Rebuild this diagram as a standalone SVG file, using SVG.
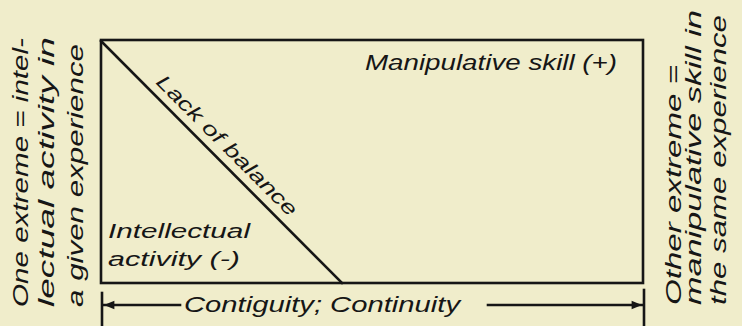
<svg xmlns="http://www.w3.org/2000/svg" width="742" height="326" viewBox="0 0 742 326">
  <style>
    .ln { stroke: #161616; stroke-width: 2.6; fill: none; stroke-linecap: square; }
    .t { font-family: "Liberation Sans", Arial, sans-serif; font-style: italic; fill: #161616; }
  </style>
  <defs>
    <marker id="ah" viewBox="0 0 10 10" refX="10" refY="5" markerWidth="5" markerHeight="4" orient="auto" markerUnits="strokeWidth">
      <path d="M0,1 L10,5 L0,9 Z" fill="#161616"/>
    </marker>
  </defs>
  <rect width="742" height="326" fill="#f0edcb"/>

  <g id="box">
    <rect class="ln" x="101" y="40" width="542" height="243"/>
  </g>

  <g id="connectors">
    <line id="diagonal" class="ln" x1="101" y1="41" x2="342" y2="283"/>
    <line class="ln" x1="102" y1="293" x2="102" y2="326"/>
    <line class="ln" x1="644" y1="290" x2="644" y2="326"/>
    <line class="ln" x1="180" y1="305" x2="104" y2="305" stroke-width="2" marker-end="url(#ah)"/>
    <line class="ln" x1="488" y1="305" x2="642" y2="305" stroke-width="2" marker-end="url(#ah)"/>
  </g>

  <g id="manipulative">
    <text class="t" x="365" y="70" font-size="22" textLength="252" lengthAdjust="spacingAndGlyphs">Manipulative skill (+)</text>
  </g>

  <g id="intellectual">
    <text class="t" x="108" y="238" font-size="20" textLength="142" lengthAdjust="spacingAndGlyphs">Intellectual</text>
    <text class="t" x="108" y="266" font-size="20" textLength="132" lengthAdjust="spacingAndGlyphs">activity (-)</text>
  </g>

  <g id="lack">
    <text class="t" transform="translate(155,83) rotate(45)" font-size="20" textLength="190" lengthAdjust="spacingAndGlyphs">Lack of balance</text>
  </g>

  <g id="axis-label">
    <text class="t" x="184" y="312" font-size="22" textLength="276" lengthAdjust="spacingAndGlyphs">Contiguity; Continuity</text>
  </g>

  <g id="left-label">
    <text class="t" transform="translate(28,307) rotate(-90)" font-size="22" textLength="269" lengthAdjust="spacingAndGlyphs">One extreme = intel-</text>
    <text class="t" transform="translate(54,307) rotate(-90)" font-size="22" textLength="270" lengthAdjust="spacingAndGlyphs">lectual activity in</text>
    <text class="t" transform="translate(83,307) rotate(-90)" font-size="22" textLength="263" lengthAdjust="spacingAndGlyphs">a given experience</text>
  </g>

  <g id="right-label">
    <text class="t" transform="translate(681,305) rotate(-90)" font-size="22" textLength="240" lengthAdjust="spacingAndGlyphs">Other extreme =</text>
    <text class="t" transform="translate(701,305) rotate(-90)" font-size="22" textLength="295" lengthAdjust="spacingAndGlyphs">manipulative skill in</text>
    <text class="t" transform="translate(726,305) rotate(-90)" font-size="22" textLength="290" lengthAdjust="spacingAndGlyphs">the same experience</text>
  </g>
</svg>
